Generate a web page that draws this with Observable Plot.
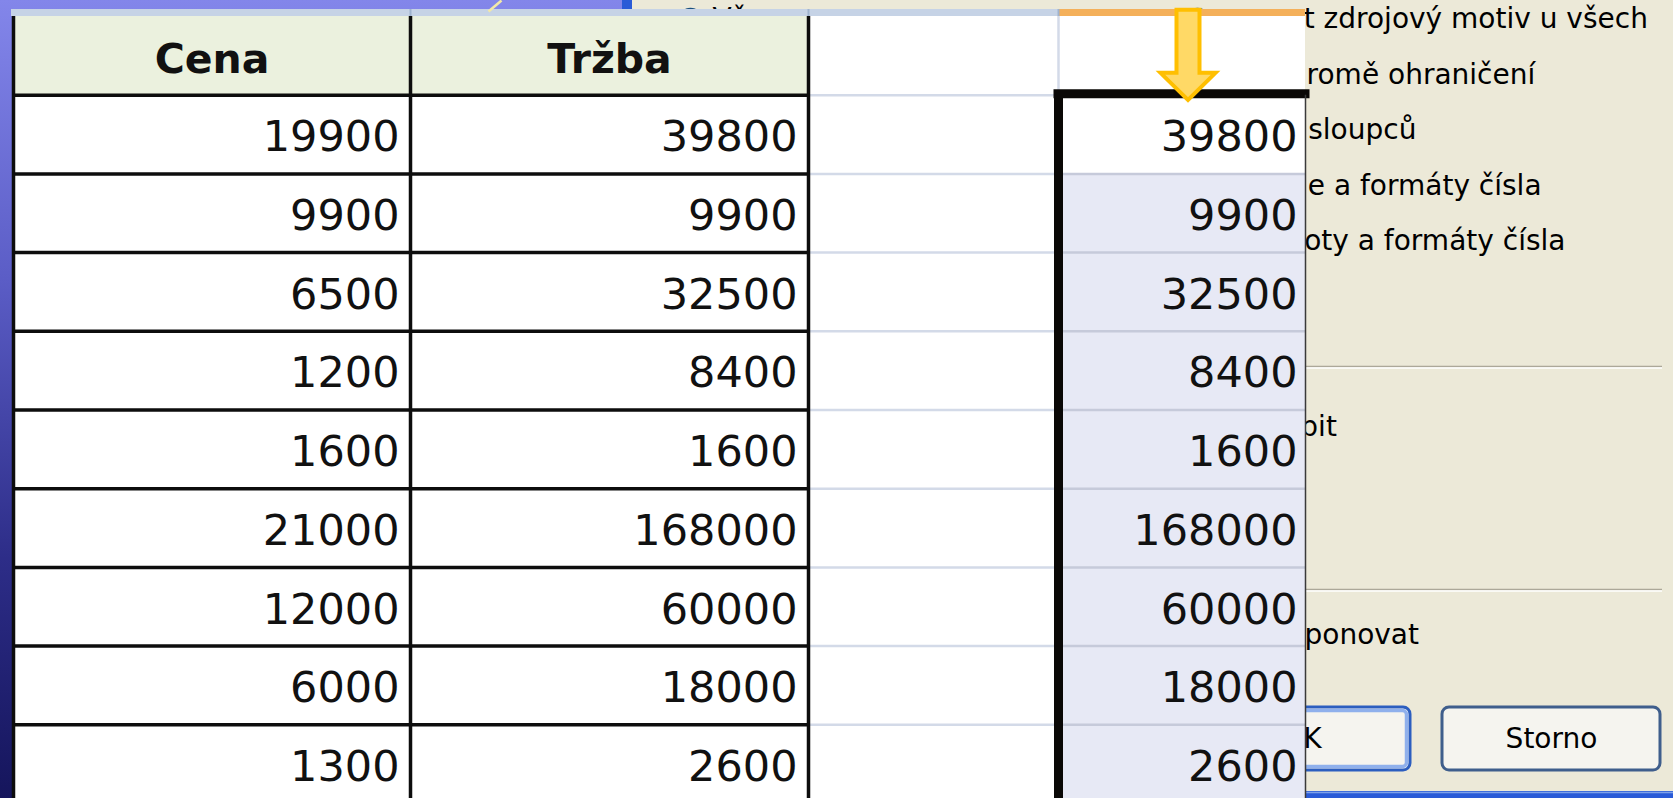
<!DOCTYPE html>
<html>
<head>
<meta charset="utf-8">
<script src="https://cdn.jsdelivr.net/npm/d3@7"></script>
<script src="https://cdn.jsdelivr.net/npm/@observablehq/plot@0.6"></script>
<style>
  html, body { margin: 0; padding: 0; background: #1a1a60; }
  #stage { position: relative; width: 1673px; height: 798px; overflow: hidden;
    background: linear-gradient(to bottom, #8386ea 0%, #5b5dc6 35%, #2d2d88 70%, #15155c 100%); }
  #stage svg { position: absolute; left: 0; top: 0; }
</style>
</head>
<body>
<div id="stage"></div>
<script>
// ---------- data ----------
const headers = ["Cena", "Tržba"];
const cena = [19900, 9900, 6500, 1200, 1600, 21000, 12000, 6000, 1300];
const trzba = [39800, 9900, 32500, 8400, 1600, 168000, 60000, 18000, 2600];
const pasted = [39800, 9900, 32500, 8400, 1600, 168000, 60000, 18000, 2600];
const dialogOptions = ["Použít zdrojový motiv u všech", "Vše kromě ohraničení", "Šířky sloupců", "Vzorce a formáty čísla", "Hodnoty a formáty čísla"];
const dialogLeftOptions = ["Vše"];
const dialogOperations = ["Násobit"];
const dialogChecks = ["Transponovat"];
const dialogButtons = ["OK", "Storno"];

// ---------- layout (not data) ----------
const W = 1673, H = 798;
const FONT = "DejaVu Sans";
const DLG_FS = 28;
const colEdges = [13, 410, 808, 1058, 1305];   // pixel edges of the 4 spreadsheet columns
const tableTop = 16, rowH = 78.7;
const nBands = pasted.length + 1;                // header + data rows
const dlg = {
  x1: 622, frame: 10, optX: 1230, radioX: 1197, leftRadioX: 690, leftTextX: 712,
  optY0: 19, optStep: 55.5, opY: 427, chkY: 635, sepY: [366, 589], sepX2: 1662,
  btnY1: 707, btnY2: 770, btnX: [[1192, 1410], [1442, 1660]], bottomY: 791,
  bandY1: 9, bandY2: 16
};
const tableRight = colEdges[colEdges.length - 1];

// The spreadsheet picture covers the left part of the dialog: keep only the
// part of each dialog label that shows to the right of it.
const ctx = document.createElement("canvas").getContext("2d");
ctx.font = `${DLG_FS}px "${FONT}"`;
function visiblePart(text, x) {
  for (let k = 0; k <= text.length; k++) {
    const start = x + ctx.measureText(text.slice(0, k)).width;
    if (start >= tableRight - 7) return {text: text.slice(k), x: start};
  }
  return {text: "", x};
}

// ---------- background layer: slide, dialog, spreadsheet column band ----------
const options = dialogOptions.map((t, i) => ({...visiblePart(t, dlg.optX), y: dlg.optY0 + i * dlg.optStep}));
const leftOpts = dialogLeftOptions.map((t, i) => ({text: t, x: dlg.leftTextX, y: dlg.optY0 + i * dlg.optStep}));
const ops = dialogOperations.map(t => ({...visiblePart(t, dlg.optX), y: dlg.opY}));
const chks = dialogChecks.map(t => ({...visiblePart(t, dlg.optX), y: dlg.chkY}));
const buttons = dialogButtons.map((t, i) => ({text: t, x1: dlg.btnX[i][0], x2: dlg.btnX[i][1], y1: dlg.btnY1, y2: dlg.btnY2, def: i === 0}));
const buttonLabels = buttons.map(b => ({...visiblePart(b.text, (b.x1 + b.x2) / 2 - ctx.measureText(b.text).width / 2), y: (b.y1 + b.y2) / 2}));
const radios = [{x: dlg.leftRadioX, y: dlg.optY0}, {x: dlg.radioX, y: dlg.optY0}];
const bandSegs = [
  {x1: colEdges[0] - 2, x2: colEdges[3]},
  {x1: colEdges[3], x2: colEdges[4]}
];
const dlgText = {x: "x", y: "y", text: "text", textAnchor: "start", fontSize: DLG_FS, fill: "#000"};

const bg = Plot.plot({
  width: W, height: H, margin: 0,
  x: {type: "linear", domain: [0, W], range: [0, W], axis: null},
  y: {type: "linear", domain: [0, H], range: [0, H], axis: null},
  style: {background: "transparent", fontFamily: FONT},
  marks: [
    // dialog body
    Plot.rect([dlg], {x1: d => d.x1, x2: () => W, y1: () => 0, y2: () => H, fill: "#ECE9D8"}),
    Plot.rect([dlg], {x1: d => d.x1, x2: d => d.x1 + d.frame, y1: () => 0, y2: () => H, fill: "#2A5BD7"}),
    Plot.rect([dlg], {x1: d => d.x1, x2: () => W, y1: d => d.bottomY, y2: () => H, fill: "#2A5BD7"}),
    Plot.ruleY([dlg], {y: d => d.bottomY + 1, x1: d => d.x1, x2: () => W, stroke: "#7FA2EA", strokeWidth: 1.5}),
    // separators
    Plot.ruleY(dlg.sepY, {y: d => d, x1: () => dlg.x1 + 20, x2: () => dlg.sepX2, stroke: "#ACA899", strokeWidth: 1.5}),
    Plot.ruleY(dlg.sepY, {y: d => d + 1.5, x1: () => dlg.x1 + 20, x2: () => dlg.sepX2, stroke: "#FFFFFF", strokeWidth: 1.5}),
    // radio buttons
    Plot.dot(radios, {x: "x", y: "y", r: 11, fill: "#FFFFFF", stroke: "#1C5180", strokeWidth: 1.5}),
    // texts
    Plot.text(options.filter(d => d.text), dlgText),
    Plot.text(leftOpts, dlgText),
    Plot.text(ops.filter(d => d.text), dlgText),
    Plot.text(chks.filter(d => d.text), dlgText),
    // buttons
    Plot.rect(buttons, {x1: "x1", x2: "x2", y1: "y1", y2: "y2", rx: 7, fill: "#F5F4EF", stroke: d => d.def ? "#2C5EBF" : "#3F5E8C", strokeWidth: 3}),
    Plot.rect(buttons.filter(d => d.def), {x1: d => d.x1 + 3.5, x2: d => d.x2 - 3.5, y1: d => d.y1 + 3.5, y2: d => d.y2 - 3.5, rx: 4, fill: "none", stroke: "#8FB0EC", strokeWidth: 3.5}),
    Plot.text(buttonLabels.filter(d => d.text), dlgText),
    // spreadsheet column-header band
    Plot.rect(bandSegs.slice(0, 1), {x1: "x1", x2: "x2", y1: () => dlg.bandY1, y2: () => dlg.bandY2, fill: "#C6D3E6"}),
    Plot.rect(bandSegs.slice(1), {x1: "x1", x2: "x2", y1: () => dlg.bandY1, y2: () => dlg.bandY2, fill: "#F4B05A"}),
    Plot.ruleX(colEdges.slice(1, 4), {x: d => d, y1: () => dlg.bandY1, y2: () => dlg.bandY2, stroke: "#9FB3CF", strokeWidth: 2}),
    // slide decoration curve
    Plot.link([{x1: 501, y1: 0, x2: 488, y2: 11}], {x1: "x1", y1: "y1", x2: "x2", y2: "y2", stroke: "#F2E8A8", strokeWidth: 2.5})
  ]
});

// ---------- table layer ----------
const rows = cena.map((v, i) => ({row: i + 1, cena: v, trzba: trzba[i], pasted: pasted[i]}));
const headerCells = headers.map((h, j) => ({col: j, row: 0, text: h}));
const bodyCells = rows.flatMap(r => [
  {col: 0, row: r.row, text: String(r.cena)},
  {col: 1, row: r.row, text: String(r.trzba)}
]);
const blankCells = d3.range(nBands).map(r => ({col: 2, row: r}));
const copyCells = [{col: 3, row: 0, kind: "blank"}].concat(
  rows.map(r => ({col: 3, row: r.row, kind: r.row === 1 ? "active" : "selected", text: String(r.pasted)}))
);
const boundaries = d3.range(1, nBands + 1);

const blockArrow = {
  draw(context, l) {
    const sw = 11.5, hw = 27.5, hl = 27;
    context.moveTo(-sw, 0);
    context.lineTo(-sw, -(l - hl));
    context.lineTo(-hw, -(l - hl));
    context.lineTo(0, -l);
    context.lineTo(hw, -(l - hl));
    context.lineTo(sw, -(l - hl));
    context.lineTo(sw, 0);
    context.closePath();
  }
};

const cellRect = {x1: "col", x2: d => d.col + 1, y1: "row", y2: d => d.row + 1};

const table = Plot.plot({
  width: W, height: H, margin: 0,
  x: {type: "linear", domain: [0, 1, 2, 3, 4], range: colEdges, axis: null},
  y: {type: "linear", domain: [0, nBands], range: [tableTop, tableTop + nBands * rowH], axis: null},
  style: {background: "transparent", fontFamily: FONT},
  marks: [
    // fills
    Plot.rect(blankCells, {...cellRect, fill: "#FFFFFF"}),
    Plot.rect(copyCells.filter(d => d.kind !== "selected"), {...cellRect, fill: "#FFFFFF"}),
    Plot.rect(copyCells.filter(d => d.kind === "selected"), {...cellRect, fill: "#E7E9F5"}),
    Plot.rect(headerCells, {...cellRect, fill: "#EBF1DE"}),
    Plot.rect(bodyCells, {...cellRect, fill: "#FFFFFF"}),
    // light gridlines
    Plot.ruleY(boundaries, {y: d => d, x1: () => 2, x2: () => 3, stroke: "#D3DAE8", strokeWidth: 2.5}),
    Plot.ruleX([3], {x: d => d, y1: () => 0, y2: () => 1, stroke: "#D3DAE8", strokeWidth: 2.5}),
    Plot.ruleY(boundaries.slice(1), {y: d => d, x1: () => 3, x2: () => 4, stroke: "#C6CADA", strokeWidth: 2.5}),
    // black grid of the source table
    Plot.ruleY(boundaries, {y: d => d, x1: () => 0, x2: () => 2, stroke: "#0d0d0d", strokeWidth: 3.5}),
    Plot.ruleX([0, 1, 2], {x: d => d, y1: () => 0, y2: () => nBands, stroke: "#0d0d0d", strokeWidth: 3.5}),
    // selection border of the pasted column
    Plot.ruleX([3], {x: d => d, y1: () => 1, y2: () => nBands, stroke: "#0a0806", strokeWidth: 9}),
    Plot.ruleY([1], {y: d => d - 0.02, x1: () => 3, x2: () => 4, stroke: "#0a0806", strokeWidth: 9, strokeLinecap: "square"}),
    Plot.ruleX([4], {x: d => d, y1: () => 1, y2: () => nBands, stroke: "#3a3a3a", strokeWidth: 1.5}),
    // texts
    Plot.text(headerCells, {x: d => d.col + 0.5, y: d => d.row + 0.5, text: "text", fontSize: 41, fontWeight: "bold", fill: "#111", dy: 4}),
    Plot.text(bodyCells, {x: d => d.col + 1, y: d => d.row + 0.5, text: "text", textAnchor: "end", dx: -11, dy: 3, fontSize: 43, fill: "#111"}),
    Plot.text(copyCells.filter(d => d.text), {x: d => d.col + 1, y: d => d.row + 0.5, text: "text", textAnchor: "end", dx: -8, dy: 3, fontSize: 43, fill: "#111"}),
    // arrow pointing at the pasted column
    Plot.vector([{col: 3, row: 0}], {x: d => d.col + 0.5, y: d => d.row + 0.5, length: 90, rotate: 180, anchor: "middle",
      shape: blockArrow, fill: "#FFD966", stroke: "#FFBF00", strokeWidth: 4, strokeLinejoin: "miter", dx: 6, dy: -1})
  ]
});

const stage = document.getElementById("stage");
stage.appendChild(bg);
stage.appendChild(table);
</script>
</body>
</html>
